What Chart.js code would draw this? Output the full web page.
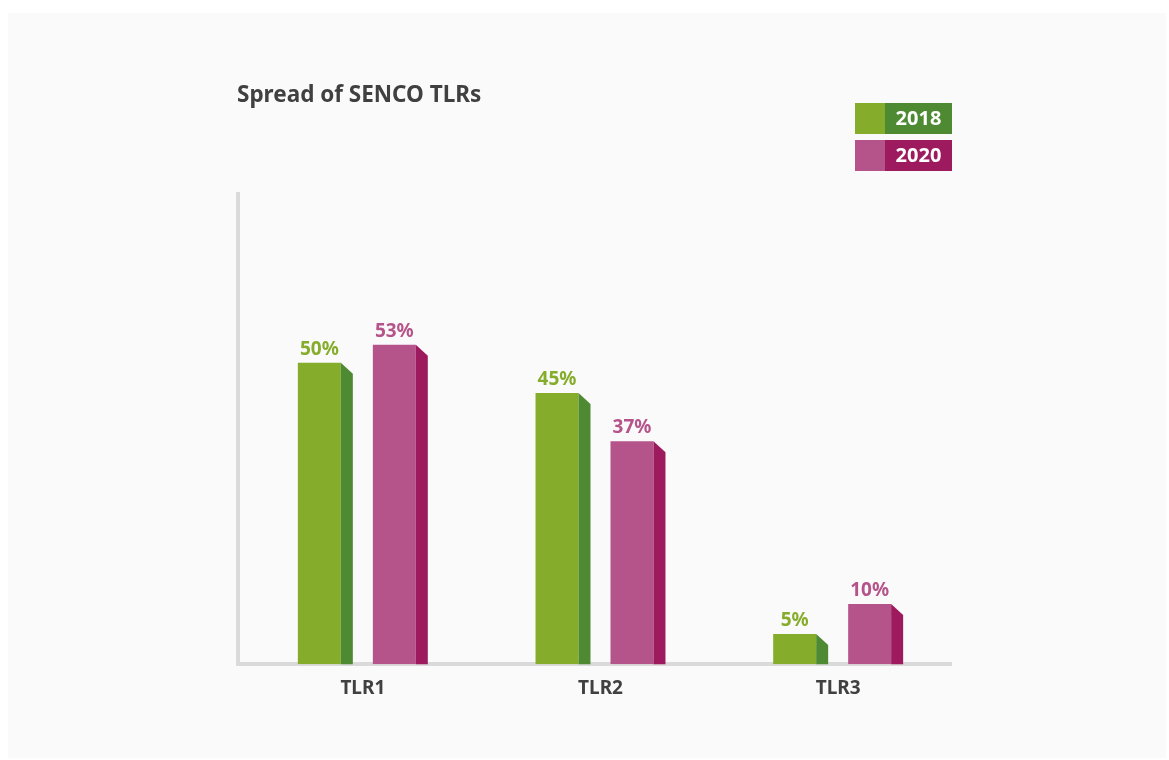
<!DOCTYPE html>
<html>
<head>
<meta charset="utf-8">
<script src="https://cdn.jsdelivr.net/npm/chart.js@4/dist/chart.umd.min.js"></script>
<style>
    body { margin: 0; background: #ffffff; }
    canvas { display: block; }
</style>
</head>
<body>
<canvas id="chart" width="1169" height="760"></canvas>
<script>
const categories = ["TLR1", "TLR2", "TLR3"];
const seriesNames = ["2018", "2020"];
const values2018 = [50, 45, 5];
const values2020 = [53, 37, 10];
const yMax = 78;

const frontColors = ["#85ad2b", "#b5548a"];
const sideColors = ["#4e8a32", "#9e1a5e"];
const FONT = "'Noto Sans', 'Open Sans', sans-serif";

// panel background
const panelPlugin = {
    id: "panel",
    beforeDraw(chart) {
        const ctx = chart.ctx;
        ctx.save();
        ctx.fillStyle = "#fafafa";
        ctx.fillRect(8, 13, 1158, 745);
        ctx.restore();
    }
};

// side faces + value labels
const bar3dPlugin = {
    id: "bar3d",
    afterDatasetsDraw(chart) {
        const ctx = chart.ctx;
        ctx.save();
        chart.data.datasets.forEach(function (ds, i) {
            const meta = chart.getDatasetMeta(i);
            meta.data.forEach(function (bar, j) {
                const p = bar.getProps(["x", "y", "base", "width"], true);
                const right = p.x + p.width / 2;
                ctx.fillStyle = sideColors[i];
                ctx.beginPath();
                ctx.moveTo(right, p.y);
                ctx.lineTo(right + 12, p.y + 11);
                ctx.lineTo(right + 12, p.base);
                ctx.lineTo(right, p.base);
                ctx.closePath();
                ctx.fill();

                ctx.fillStyle = frontColors[i];
                ctx.font = "bold 19px " + FONT;
                ctx.textAlign = "center";
                ctx.textBaseline = "alphabetic";
                ctx.fillText(ds.data[j] + "%", p.x, p.y - 8);
            });
        });
        ctx.restore();
    },
    afterDraw(chart) {
        const ctx = chart.ctx;
        ctx.save();
        // title
        ctx.fillStyle = "#404040";
        ctx.font = "bold 22.5px " + FONT;
        ctx.textAlign = "left";
        ctx.textBaseline = "middle";
        ctx.fillText("Spread of SENCO TLRs", 237, 96);

        // legend
        chart.data.datasets.forEach(function (ds, i) {
            const top = 103 + i * 37;
            ctx.fillStyle = frontColors[i];
            ctx.fillRect(855, top, 30, 31);
            ctx.fillStyle = sideColors[i];
            ctx.fillRect(885, top, 67, 31);
            ctx.fillStyle = "#ffffff";
            ctx.font = "bold 20px " + FONT;
            ctx.textAlign = "center";
            ctx.textBaseline = "middle";
            ctx.fillText(ds.label, 918.5, top + 16);
        });
        ctx.restore();
    }
};

new Chart(document.getElementById("chart").getContext("2d"), {
    type: "bar",
    data: {
        labels: categories,
        datasets: [
            { label: seriesNames[0], data: values2018, backgroundColor: frontColors[0] },
            { label: seriesNames[1], data: values2020, backgroundColor: frontColors[1] }
        ]
    },
    options: {
        responsive: false,
        animation: false,
        devicePixelRatio: 1,
        categoryPercentage: 0.631,
        barPercentage: 0.573,
        layout: {
            padding: { left: 238, right: 218, top: 194, bottom: 47 }
        },
        plugins: {
            legend: { display: false },
            tooltip: { enabled: false }
        },
        scales: {
            x: {
                grid: { display: false, drawTicks: false },
                border: { display: true, color: "#dadada", width: 4 },
                ticks: {
                    color: "#404040",
                    font: { family: FONT, size: 19, weight: "bold" },
                    padding: 13,
                    labelOffset: 6
                }
            },
            y: {
                min: 0,
                max: yMax,
                grid: { display: false, drawTicks: false },
                border: { display: true, color: "#dadada", width: 4 },
                ticks: { display: false }
            }
        }
    },
    plugins: [panelPlugin, bar3dPlugin]
});
</script>
</body>
</html>
